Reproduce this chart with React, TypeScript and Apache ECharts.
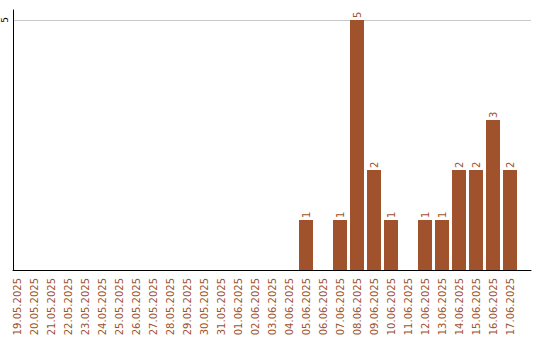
import React, { useEffect, useRef } from "react";
import * as echarts from "echarts";

const dates = [
  "19.05.2025", "20.05.2025", "21.05.2025", "22.05.2025", "23.05.2025",
  "24.05.2025", "25.05.2025", "26.05.2025", "27.05.2025", "28.05.2025",
  "29.05.2025", "30.05.2025", "31.05.2025", "01.06.2025", "02.06.2025",
  "03.06.2025", "04.06.2025", "05.06.2025", "06.06.2025", "07.06.2025",
  "08.06.2025", "09.06.2025", "10.06.2025", "11.06.2025", "12.06.2025",
  "13.06.2025", "14.06.2025", "15.06.2025", "16.06.2025", "17.06.2025",
];
const counts = [
  0, 0, 0, 0, 0, 0, 0, 0, 0, 0,
  0, 0, 0, 0, 0, 0, 0, 1, 0, 1,
  5, 2, 1, 0, 1, 1, 2, 2, 3, 2,
];
const yTicks = [5];

const COLOR = "#a0522d";
const FONT = "DejaVu Sans";

export default function App() {
  const ref = useRef<HTMLDivElement>(null);
  useEffect(() => {
    document.body.style.margin = "0";
    if (!ref.current) return;
    const chart = echarts.init(ref.current, null, { renderer: "svg" });
    chart.setOption({
      animation: false,
      grid: [
        { left: 11, right: 9, top: 10, bottom: 70 },
        { left: 8.5, right: 21.5, top: 10, bottom: 70 },
      ],
      xAxis: [
        {
          gridIndex: 0,
          type: "value",
          min: 0,
          max: 1,
          axisLine: { show: true, lineStyle: { color: "#000", width: 1 } },
          axisTick: { show: false },
          axisLabel: { show: false },
          splitLine: { show: false },
        },
        {
          gridIndex: 1,
          type: "category",
          data: dates,
          axisLine: { show: false },
          axisTick: { show: false },
          axisLabel: {
            rotate: 90,
            interval: 0,
            margin: 8,
            color: COLOR,
            fontFamily: FONT,
            fontSize: 10,
          },
        },
      ],
      yAxis: [
        {
          gridIndex: 0,
          type: "value",
          min: 0,
          max: 5.2,
          interval: 5,
          axisLine: { show: true, lineStyle: { color: "#000", width: 1 } },
          axisTick: { show: false },
          axisLabel: {
            rotate: 90,
            margin: 4,
            color: "#000",
            fontFamily: FONT,
            fontSize: 9,
            formatter: (v: number) => (yTicks.includes(v) ? String(v) : ""),
            showMaxLabel: false,
          },
          splitLine: {
            show: true,
            showMinLine: false,
            showMaxLine: false,
            lineStyle: { color: "#c8c8c8", width: 1 },
          },
        },
        {
          gridIndex: 1,
          type: "value",
          min: 0,
          max: 5.2,
          show: false,
          splitLine: { show: false },
        },
      ],
      series: [
        {
          type: "bar",
          xAxisIndex: 1,
          yAxisIndex: 1,
          data: counts,
          barWidth: 14,
          itemStyle: { color: COLOR },
          label: {
            show: true,
            position: "top",
            rotate: 90,
            align: "left",
            verticalAlign: "middle",
            distance: 2,
            color: COLOR,
            fontFamily: FONT,
            fontSize: 10,
            formatter: (p: any) => (p.value ? String(p.value) : ""),
          },
        },
      ],
    });
    return () => chart.dispose();
  }, []);
  return <div ref={ref} style={{ width: 540, height: 340 }} />;
}
